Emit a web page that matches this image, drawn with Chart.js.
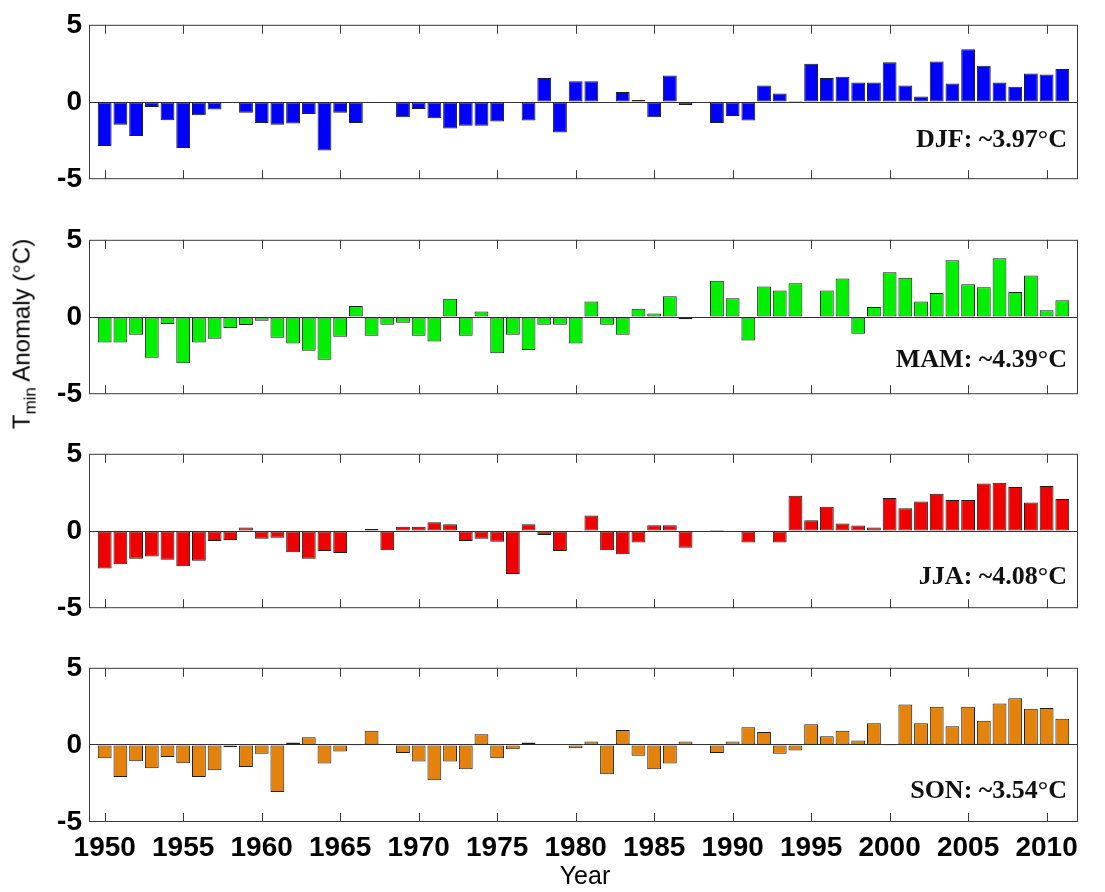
<!DOCTYPE html>
<html>
<head>
<meta charset="utf-8">
<script src="https://cdn.jsdelivr.net/npm/chart.js@4.4.1/dist/chart.umd.min.js"></script>
<style>
  body { margin: 0; background: #fff; }
  #wrap { position: relative; width: 1105px; height: 892px; background: #fff; font-family: "Liberation Sans", Arial, sans-serif; color: #000; }
  canvas { position: absolute; left: 0; }
  #ytitle { position: absolute; left: 24px; top: 334px; transform: translate(-50%, -50%) rotate(-90deg); font-size: 24px; white-space: nowrap; }
  #ytitle sub { font-size: 17px; }
  #xtitle { position: absolute; left: 585px; top: 861px; transform: translateX(-50%); font-size: 25px; }
</style>
</head>
<body>
<div id="wrap">
  <canvas id="djf"></canvas>
  <canvas id="mam"></canvas>
  <canvas id="jja"></canvas>
  <canvas id="son"></canvas>
  <div id="ytitle">T<sub>min</sub> Anomaly (°C)</div>
  <div id="xtitle">Year</div>
</div>
<script>
const years = Array.from({ length: 62 }, (_, i) => 1950 + i);
const tickYears = [1950, 1955, 1960, 1965, 1970, 1975, 1980, 1985, 1990, 1995, 2000, 2005, 2010];
const yTicks = [-5, 0, 5];

// anomalies 1950..2011, null = no bar
const djf = [
  -2.85, -1.47, -2.2, -0.33, -1.18, -2.98, -0.86, -0.48, null, -0.7,
  -1.36, -1.47, -1.4, -0.77, -3.14, -0.7, -1.36, -0.05, -0.05, -0.99,
  -0.46, -1.05, -1.71, -1.54, -1.54, -1.27, null, -1.2, 1.56, -1.97,
  1.34, 1.34, null, 0.64, 0.13, -0.99, 1.71, -0.2, null, -1.36,
  -0.9, -1.2, 1.07, 0.55, 0.07, 2.48, 1.56, 1.64, 1.27, 1.27,
  2.57, 1.07, 0.35, 2.63, 1.2, 3.42, 2.35, 1.27, 0.99, 1.84,
  1.78, 2.13
];
const mam = [
  -1.65, -1.65, -1.15, -2.64, -0.45, -2.99, -1.65, -1.41, -0.71, -0.52,
  -0.24, -1.34, -1.71, -2.19, -2.77, -1.28, 0.71, -1.21, -0.5, -0.37,
  -1.21, -1.58, 1.19, -1.21, 0.35, -2.34, -1.15, -2.14, -0.5, -0.5,
  -1.71, 1.0, -0.5, -1.15, 0.54, 0.22, 1.34, -0.15, null, 2.34,
  1.21, -1.52, 1.97, 1.71, 2.19, -0.06, 1.71, 2.49, -1.08, 0.65,
  2.9, 2.55, 1.0, 1.56, 3.68, 2.12, 1.93, 3.81, 1.62, 2.68,
  0.43, 1.08
];
const jja = [
  -2.43, -2.15, -1.8, -1.65, -1.87, -2.28, -1.93, -0.65, -0.59, 0.22,
  -0.5, -0.43, -1.37, -1.8, -1.3, -1.43, null, 0.13, -1.24, 0.28,
  0.28, 0.57, 0.43, -0.65, -0.5, -0.7, -2.78, 0.43, -0.26, -1.3,
  -0.05, 1.0, -1.24, -1.5, -0.74, 0.37, 0.37, -1.09, null, 0.06,
  null, -0.74, 0.05, -0.74, 2.28, 0.7, 1.57, 0.48, 0.35, 0.22,
  2.13, 1.48, 1.91, 2.41, 2.0, 2.0, 3.07, 3.13, 2.85, 1.85,
  2.91, 2.07
];
const son = [
  -0.87, -2.08, -1.06, -1.52, -0.78, -1.19, -2.08, -1.65, -0.15, -1.43,
  -0.58, -3.05, 0.15, 0.5, -1.21, -0.43, -0.05, 0.91, 0.05, -0.52,
  -1.08, -2.29, -1.08, -1.58, 0.69, -0.87, -0.28, 0.15, null, 0.03,
  -0.22, 0.22, -1.9, 0.97, -0.71, -1.58, -1.21, 0.22, null, -0.52,
  0.22, 1.15, 0.84, -0.58, -0.37, 1.34, 0.56, 0.91, 0.28, 1.41,
  -0.05, 2.62, 1.41, 2.47, 1.21, 2.47, 1.56, 2.68, 3.03, 2.34,
  2.4, 1.69
];
const seasonLabels = ["DJF: ~3.97°C", "MAM: ~4.39°C", "JJA: ~4.08°C", "SON: ~3.54°C"];

const panels = [
  { id: "djf", values: djf, text: seasonLabels[0], fill: "#0000FF", plotTop: 25, labelAt: -2.5 },
  { id: "mam", values: mam, text: seasonLabels[1], fill: "#00F000", plotTop: 240, labelAt: -2.8 },
  { id: "jja", values: jja, text: seasonLabels[2], fill: "#F00000", plotTop: 454, labelAt: -3.0 },
  { id: "son", values: son, text: seasonLabels[3], fill: "#E5820C", plotTop: 668, labelAt: -3.0 },
];

// box round the plot, inward year ticks, season text
const framePlugin = {
  id: "frame",
  afterDraw(chart, args, opts) {
    const { ctx, chartArea: a, scales } = chart;
    ctx.save();
    ctx.strokeStyle = "#3a3a3a";
    ctx.lineWidth = 1;
    ctx.strokeRect(a.left + 0.5, a.top + 0.5, a.right - a.left - 1, a.bottom - a.top - 1);
    ctx.beginPath();
    scales.x.ticks.forEach(t => {
      const px = Math.round(scales.x.getPixelForValue(t.value)) + 0.5;
      ctx.moveTo(px, a.top);
      ctx.lineTo(px, a.top + 9);
      ctx.moveTo(px, a.bottom);
      ctx.lineTo(px, a.bottom - 9);
    });
    ctx.stroke();
    ctx.font = "bold 26px 'Liberation Serif', 'Times New Roman', serif";
    ctx.fillStyle = "#111";
    ctx.textAlign = "right";
    ctx.textBaseline = "middle";
    ctx.fillText(opts.text, a.right - 11, scales.y.getPixelForValue(opts.at));
    ctx.restore();
  }
};

const plotH = 154;

panels.forEach((p, i) => {
  const last = i === panels.length - 1;
  const xAxisH = last ? 45 : 0;
  const canvas = document.getElementById(p.id);
  const h = 24 + plotH + 24 + xAxisH;
  canvas.width = 1105;
  canvas.height = h;
  canvas.style.width = "1105px";
  canvas.style.height = h + "px";

  const chart = new Chart(canvas.getContext("2d"), {
    type: "bar",
    data: {
      datasets: [{
        data: years.map((y, k) => ({ x: y, y: p.values[k] })),
        backgroundColor: p.fill,
        borderColor: "#1e1e1e",
        borderWidth: 1,
        borderSkipped: false,
        barPercentage: 0.88,
        categoryPercentage: 1,
      }],
    },
    options: {
      responsive: false,
      maintainAspectRatio: false,
      animation: false,
      layout: { padding: { left: 0, right: 27, top: 20, bottom: last ? 0 : 20 } },
      plugins: {
        legend: { display: false },
        tooltip: { enabled: false },
        frame: { text: p.text, at: p.labelAt },
      },
      scales: {
        x: {
          type: "linear",
          min: 1949,
          max: 2012,
          offset: false,
          afterBuildTicks: s => { s.ticks = tickYears.map(v => ({ value: v })); },
          afterFit: s => { s.height = xAxisH; },
          grid: { display: false, drawTicks: false },
          border: { display: false },
          ticks: {
            display: last,
            padding: 9,
            color: "#000",
            maxRotation: 0,
            autoSkip: false,
            font: { family: "'Liberation Sans', Arial", size: 28, weight: "bold" },
            callback: v => String(v),
          },
        },
        y: {
          min: -5,
          max: 5,
          afterBuildTicks: s => { s.ticks = yTicks.map(v => ({ value: v })); },
          afterFit: s => { s.width = 89; },
          grid: {
            drawTicks: false,
            color: c => (c.tick && c.tick.value === 0 ? "#333" : "rgba(0,0,0,0)"),
          },
          border: { display: false },
          ticks: {
            padding: 7,
            color: "#000",
            font: { family: "'Liberation Sans', Arial", size: 28, weight: "bold" },
            callback: v => String(v),
          },
        },
      },
    },
    plugins: [framePlugin],
  });

  // make the plot area exactly plotH tall, then place it on the page
  for (let k = 0; k < 2; k++) {
    const a = chart.chartArea;
    const extra = plotH - Math.round(a.bottom - a.top);
    if (extra !== 0) chart.resize(1105, chart.height + extra);
  }
  canvas.style.top = (p.plotTop - Math.round(chart.chartArea.top)) + "px";
});
</script>
</body>
</html>
